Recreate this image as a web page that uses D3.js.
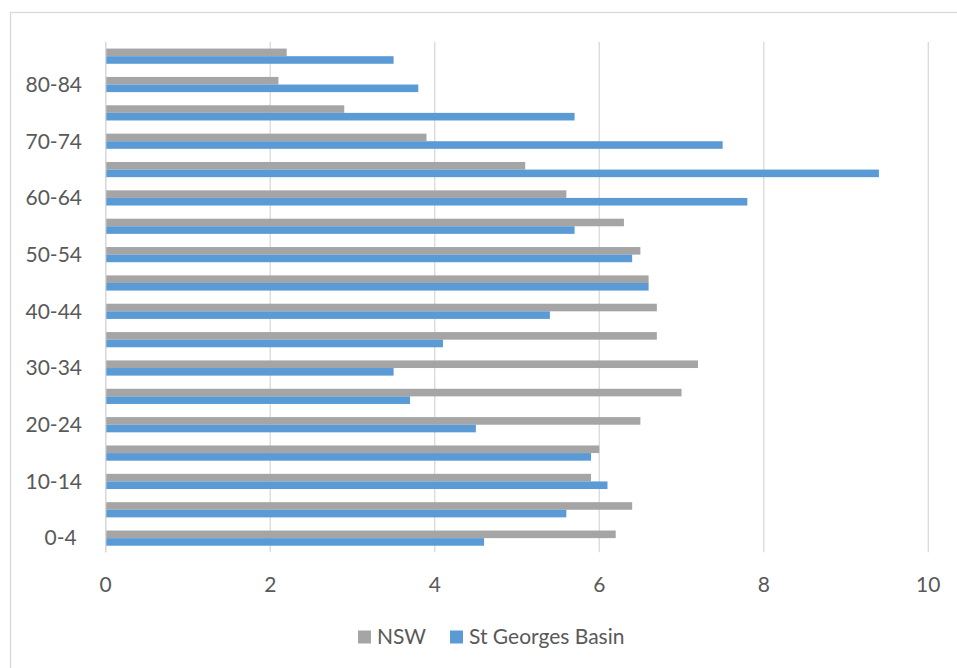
<!DOCTYPE html>
<html>
<head>
<meta charset="utf-8">
<script src="https://cdn.jsdelivr.net/npm/d3@7/dist/d3.min.js"></script>
<style>
  html, body { margin: 0; padding: 0; background: #fff; }
  svg { display: block; font-family: Lato, "Open Sans", sans-serif; }
  text { white-space: pre; }
</style>
</head>
<body>
<svg id="chart" width="957" height="668"></svg>
<script>
// Age groups, youngest first (drawn bottom to top)
const ageGroups = ["0-4 ", "5-9", "10-14", "15-19", "20-24", "25-29", "30-34", "35-39",
  "40-44", "45-49", "50-54", "55-59", "60-64", "65-69", "70-74", "75-79", "80-84", "85+"];
// Share of population (%) in each age group
const nswValues = [6.2, 6.4, 5.9, 6.0, 6.5, 7.0, 7.2, 6.7, 6.7, 6.6, 6.5, 6.3, 5.6, 5.1, 3.9, 2.9, 2.1, 2.2];
const basinValues = [4.6, 5.6, 6.1, 5.9, 4.5, 3.7, 3.5, 4.1, 5.4, 6.6, 6.4, 5.7, 7.8, 9.4, 7.5, 5.7, 3.8, 3.5];
const seriesNames = ["NSW", "St Georges Basin"];
const seriesColors = ["#A5A5A5", "#5B9BD5"];
const xTicks = [0, 2, 4, 6, 8, 10];

const svg = d3.select("#chart");
const textColor = "#595959";
const gridColor = "#D9D9D9";

// Chart area outline
svg.append("rect")
  .attr("x", 10.5).attr("y", 12.5)
  .attr("width", 970).attr("height", 680)
  .attr("fill", "none").attr("stroke", gridColor).attr("stroke-width", 1.3);

const plot = { left: 105.7, right: 928.3, top: 42, bottom: 552.3 };

const x = d3.scaleLinear().domain([0, 10]).range([plot.left, plot.right]);
const y = d3.scaleBand()
  .domain(ageGroups.slice().reverse())
  .range([plot.top, plot.bottom])
  .paddingInner(0.464)
  .paddingOuter(0.232);
const ySeries = d3.scaleBand().domain(seriesNames).range([0, y.bandwidth()]);

// Vertical gridlines
svg.append("g")
  .selectAll("line")
  .data(xTicks)
  .join("line")
  .attr("x1", d => x(d)).attr("x2", d => x(d))
  .attr("y1", plot.top).attr("y2", plot.bottom)
  .attr("stroke", gridColor).attr("stroke-width", 1.3);

// X tick labels
svg.append("g")
  .selectAll("text")
  .data(xTicks)
  .join("text")
  .attr("x", d => x(d)).attr("y", 592)
  .attr("text-anchor", "middle")
  .attr("font-size", 21)
  .attr("fill", textColor)
  .text(d => d);

// Bars
const rows = ageGroups.map((g, i) => ({ group: g, values: [nswValues[i], basinValues[i]] }));
const groups = svg.append("g").selectAll("g")
  .data(rows)
  .join("g")
  .attr("transform", d => `translate(0,${y(d.group)})`);

groups.selectAll("rect")
  .data(d => d.values.map((v, k) => ({ name: seriesNames[k], value: v, color: seriesColors[k] })))
  .join("rect")
  .attr("x", x(0))
  .attr("y", d => ySeries(d.name))
  .attr("width", d => x(d.value) - x(0))
  .attr("height", ySeries.bandwidth())
  .attr("fill", d => d.color);

// Category axis labels (every other group)
svg.append("g")
  .selectAll("text")
  .data(ageGroups.filter((g, i) => i % 2 === 0))
  .join("text")
  .attr("x", 82)
  .attr("y", d => y(d) + y.bandwidth() / 2)
  .attr("dy", "0.35em")
  .attr("text-anchor", "end")
  .attr("font-size", 21)
  .attr("fill", textColor)
  .text(d => d);

// Left axis line
svg.append("line")
  .attr("x1", x(0)).attr("x2", x(0))
  .attr("y1", plot.top).attr("y2", plot.bottom)
  .attr("stroke", gridColor).attr("stroke-width", 1.3);

// Legend
const legendItems = [
  { name: seriesNames[0], color: seriesColors[0], x: 358 },
  { name: seriesNames[1], color: seriesColors[1], x: 450 }
];
const legend = svg.append("g").selectAll("g")
  .data(legendItems)
  .join("g")
  .attr("transform", d => `translate(${d.x},630.5)`);
legend.append("rect")
  .attr("width", 13).attr("height", 13)
  .attr("fill", d => d.color);
legend.append("text")
  .attr("x", 19).attr("y", 13.5)
  .attr("font-size", 21)
  .attr("fill", textColor)
  .text(d => d.name);
</script>
</body>
</html>
